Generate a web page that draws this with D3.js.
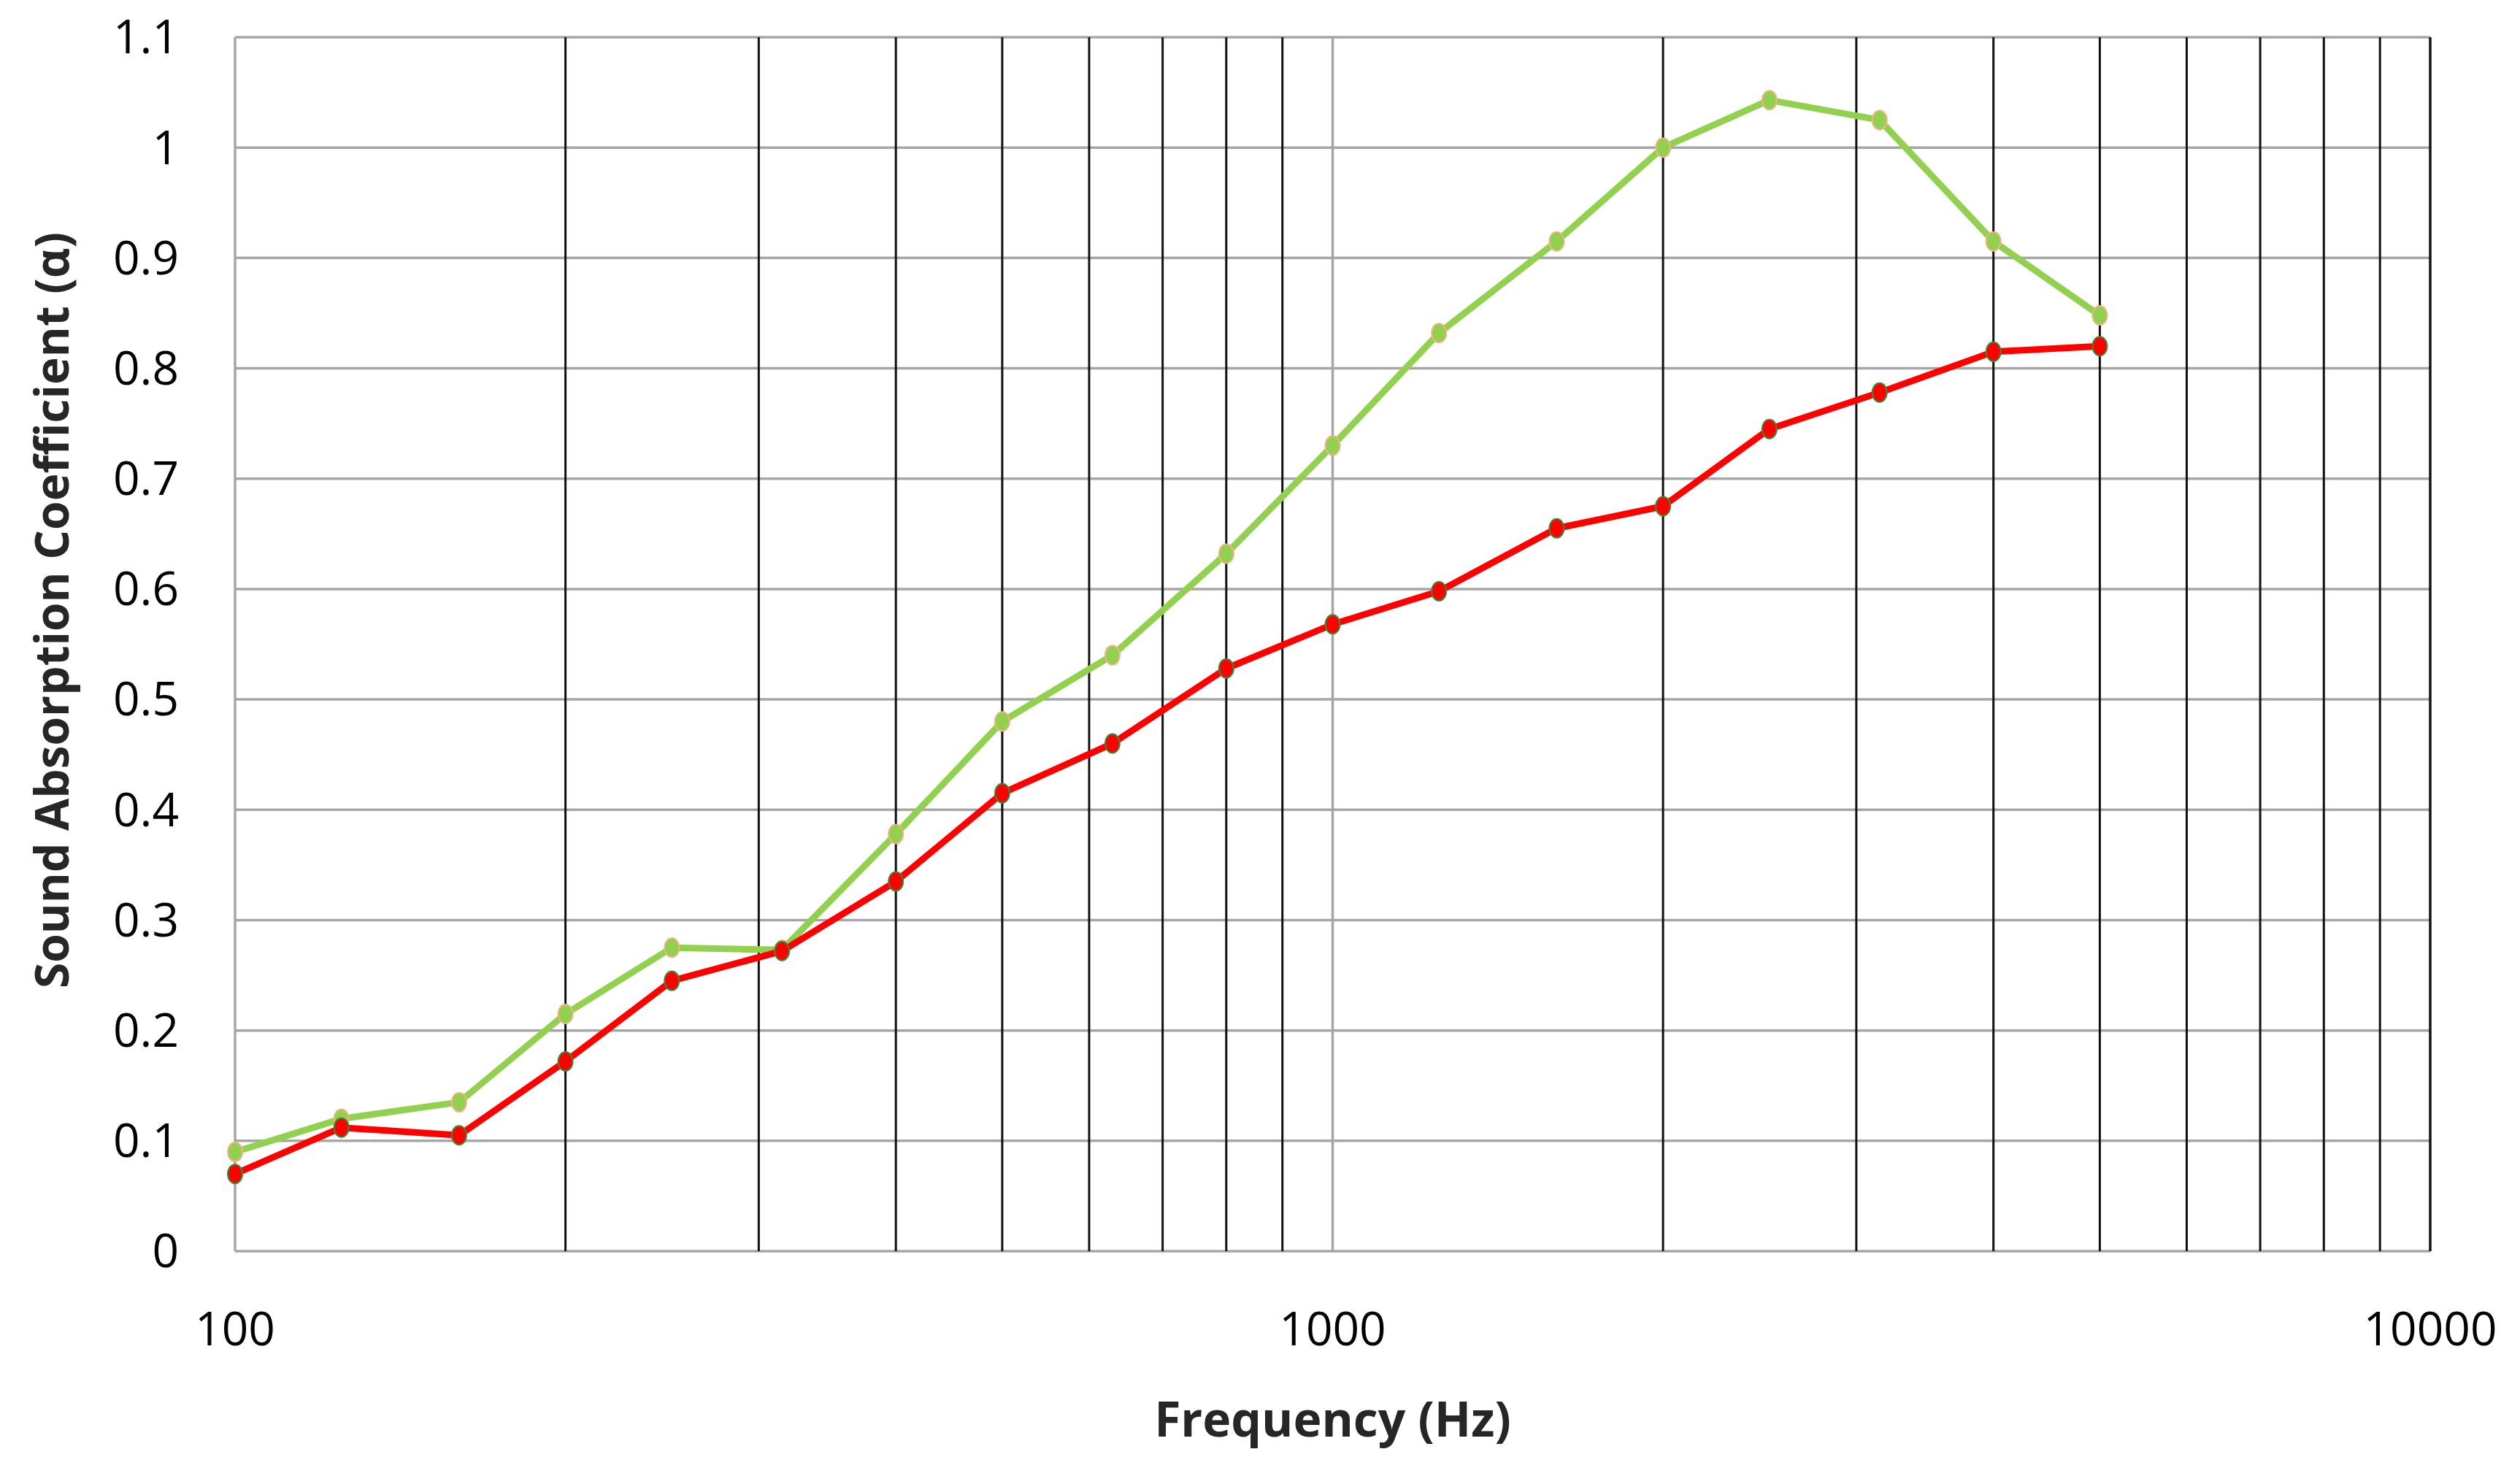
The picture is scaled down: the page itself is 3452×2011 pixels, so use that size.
<!DOCTYPE html>
<html><head><meta charset="utf-8">
<script src="https://cdn.jsdelivr.net/npm/d3@7"></script>
<style>body{margin:0;background:#fff}</style></head>
<body><svg id="c" width="3452" height="2011"></svg>
<script>
const freqs=[100,125,160,200,250,315,400,500,630,800,1000,1250,1600,2000,2500,3150,4000,5000];
const greenVals=[0.09,0.12,0.135,0.215,0.275,0.273,0.378,0.48,0.54,0.632,0.73,0.832,0.915,1.0,1.043,1.025,0.915,0.848];
const redVals=[0.07,0.112,0.105,0.172,0.245,0.272,0.335,0.415,0.46,0.528,0.568,0.598,0.655,0.675,0.745,0.778,0.815,0.82];
const yTicks=[0,0.1,0.2,0.3,0.4,0.5,0.6,0.7,0.8,0.9,1,1.1];
const xTickLabels=[100,1000,10000];
const minorGrid=[200,300,400,500,600,700,800,900,2000,3000,4000,5000,6000,7000,8000,9000];

const svg=d3.select("#c");
const L=322,R=3329,T=51,B=1714;
const x=d3.scaleLog().domain([100,10000]).range([L,R]);
const y=d3.scaleLinear().domain([0,1.1]).range([B,T]);
const font="'Open Sans', 'Liberation Sans', sans-serif";

svg.append("g").selectAll("line").data(yTicks).join("line")
 .attr("x1",L).attr("x2",R).attr("y1",d=>y(d)).attr("y2",d=>y(d))
 .attr("stroke","#a6a6a6").attr("stroke-width",3.5);
svg.append("g").selectAll("line").data(minorGrid).join("line")
 .attr("x1",d=>x(d)).attr("x2",d=>x(d)).attr("y1",T).attr("y2",B)
 .attr("stroke","#111").attr("stroke-width",3);
svg.append("g").selectAll("line").data([100,1000,10000]).join("line")
 .attr("x1",d=>x(d)).attr("x2",d=>x(d)).attr("y1",T).attr("y2",B)
 .attr("stroke",d=>d===10000?"#111":"#a6a6a6").attr("stroke-width",3.5);

svg.append("g").selectAll("text").data(yTicks).join("text")
 .attr("x",245).attr("y",d=>y(d)).attr("dy","0.35em").attr("text-anchor","end")
 .attr("font-family",font).attr("font-size",64).text(d=>d);
svg.append("g").selectAll("text").data(xTickLabels).join("text")
 .attr("x",d=>x(d)).attr("y",1843).attr("text-anchor","middle")
 .attr("font-family",font).attr("font-size",64).text(d=>d);

svg.append("text").attr("x",(L+R)/2).attr("y",1968).attr("text-anchor","middle")
 .attr("font-family",font).attr("font-weight","bold").attr("font-size",66).attr("fill","#262626").text("Frequency (Hz)");
svg.append("text").attr("transform","translate(94,836) rotate(-90)").attr("text-anchor","middle")
 .attr("font-family",font).attr("font-weight","bold").attr("font-size",64).attr("fill","#262626").text("Sound Absorption Coefficient (α)");

const line=d3.line().x((d,i)=>x(freqs[i])).y(d=>y(d));
function series(vals,col,fill,stroke){
 svg.append("path").datum(vals).attr("d",line).attr("fill","none").attr("stroke",col).attr("stroke-width",9).attr("stroke-linejoin","round");
 svg.append("g").selectAll("ellipse").data(vals).join("ellipse")
  .attr("cx",(d,i)=>x(freqs[i])).attr("cy",d=>y(d)).attr("rx",10).attr("ry",13)
  .attr("fill",fill).attr("stroke",stroke).attr("stroke-width",2);
}
series(greenVals,"#92d050","#92d050","#f4b183");
series(redVals,"#ff0000","#ff0000","#3a8a3a");
</script></body></html>
